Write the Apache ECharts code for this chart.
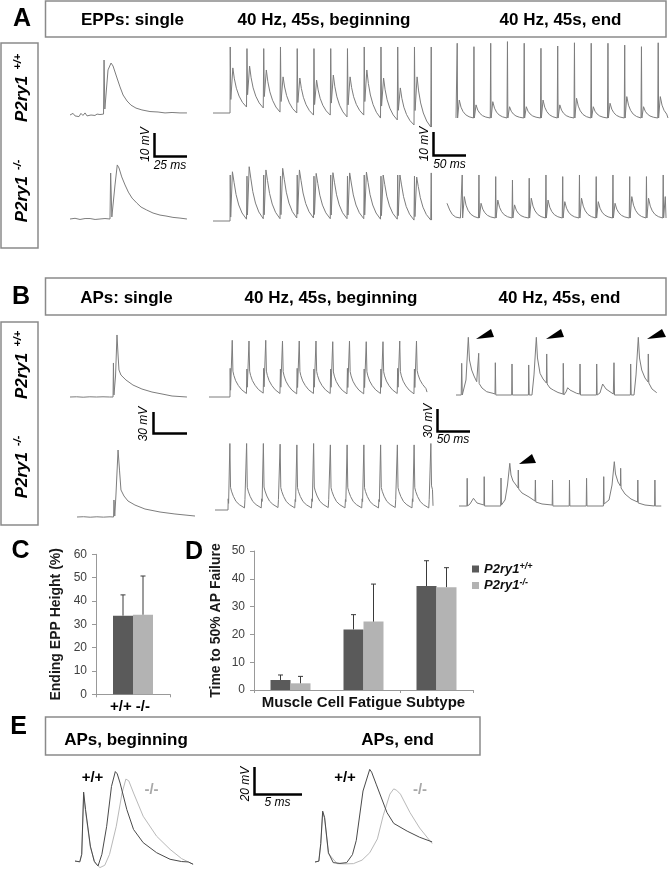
<!DOCTYPE html>
<html><head><meta charset="utf-8">
<script src="https://cdn.jsdelivr.net/npm/echarts@6/dist/echarts.min.js"></script>
<style>html,body{margin:0;padding:0;background:#fff}#c{width:669px;height:872px}</style>
</head><body><div id="c"></div>
<script>
const FONT = "'Liberation Sans', Arial, Helvetica, sans-serif";
const PERIOD_MS = 25; // 40 Hz stimulation

// ---------- Panel A: EPPs (time ms, voltage mV rel. to baseline) ----------
const aSingleWt = [[0,0],[2.3,0.7],[3.8,-0.4],[5.3,0.4],[6.8,-0.7],[8.3,0.7],[9.8,-0.2],[11.4,0.9],[12.9,-0.4],[14.4,0.4],[15.9,0],[17.4,0.7],[18.9,-0.2],[20.5,0.4],[22.7,0.2],[25.4,0.4],[25.8,23.9],[26.4,2.6],[27,2.2],[28.8,19.6],[31.1,22.6],[32.6,21.3],[35.6,16.1],[37.9,12.2],[40.2,8.7],[43.2,6.1],[46.2,4.3],[50,3],[54.5,2.2],[60.6,1.5],[66.7,1.3],[72,0.9],[77.3,1.1],[83.3,0.9],[88.6,0.9]];
const aSingleKo = [[0,0],[3.8,0.3],[7.6,-0.2],[11.4,0.2],[15.2,0.2],[19,-0.2],[22.7,0],[26.5,0.2],[30.3,0],[30.8,20],[31.7,0.9],[32.3,0.4],[34.1,14.8],[35.8,23.5],[37.1,22.2],[39.2,18.3],[41.7,14.8],[44.2,11.7],[47,9.1],[50.5,7],[53.8,5.2],[58.1,3.9],[62.9,2.6],[68.2,1.7],[72.7,1.3],[78,0.7],[83.3,0.4],[88.6,0]];

const aBegWtArt    = [28.7,28,28,28.7,28,28,28,28,28.7,28.7,28.7,28.7,28.7];
const aBegWtPeak   = [19.6,20.4,18.7,15.7,15.2,14.3,16.5,15.7,18.7,15.2,10.9,15.7,null];
const aBegWtTrough = [2.6,2.2,0.4,0,-0.9,-0.9,-1.7,-0.9,-2.2,-3,-5.2,-6.1,-6.1];

const aBegKoArt    = [20,19.5,20,19.5,20,19.5,20,19.5,20,19.5,20,19.5,20.9];
const aBegKoPeak   = [21.4,23.6,22.2,22.9,22.2,20.7,21,20.9,21.3,20,20,19.1,null];
const aBegKoTrough = [0.8,1,1,1.3,1.3,1,1,1,0.8,0.8,0.4,0.4,0.4];

const aEndWtArt    = [32.5,31,32.5,33.2,32.5,30.3,31.3,32.7,32.5,32.5,31.7,31,32.7];
const aEndWtPeak   = [7.8,5.7,7.1,4.9,4.9,7.8,5.7,8.6,4.9,6.4,9.3,4.9,9.3];
const aEndWtTrough = [0,0,0,0,0,0,0,0,0,0,0,0,0];

const aEndKoLead   = [[0,6.4],[4,3.5],[8,1.5],[13,0.4],[20,0]];
const aEndKoArt    = [18.7,18.7,18,16.5,17.3,18.7,18,18.7,18,18.7,18,18,18.7];
const aEndKoPeak   = [9.3,6.4,7.8,5.7,8.6,7.8,7.1,8.6,7.1,6.4,9.3,8.6,9.3];
const aEndKoTrough = [0,0,0,0,0,0,0,0,0,0,0,0,0];

// ---------- Panel B: APs ----------
const bSingleWt = [[0,0],[5,0.3],[10,-0.3],[15,0.3],[20,0],[25,0.3],[30,0],[32.6,0],[32.9,48.6],[33.3,2.9],[34.5,30],[35.6,88.6],[36.4,60],[37.1,38.6],[38.6,31.4],[42.4,24.3],[47.7,17.1],[54.5,11.4],[62.1,7.1],[69.7,4.3],[77.3,1.4],[88.6,0]];
const bSingleKo = [[0,0],[5,0.4],[10,-0.3],[15,0.3],[20,-0.2],[25,0.3],[27.7,0],[28,24.3],[28.6,1.4],[29.5,31.4],[31.1,95.7],[32.2,67],[33.3,38.6],[35.6,30],[38.6,22.9],[43.9,17.1],[51.5,11.4],[62.9,7.1],[74.2,4.3],[89.4,1.4]];

const bBegWtArt    = [41,40,41,40,41,40,40,41,40,40,41,40];
const bBegWtPeak   = [81,80,81,80,80,80,79,80,79,79,80,80];
const bBegWtTrough = [5,5.5,5,4.5,5,5,4.5,4.5,5,5,4.5,7];

const bBegKoArt    = [16,15,16,15,15,16,15,15,16,15,15,16,15];
const bBegKoPeak   = [95,95,95,94,93,95,93,93,93,93,93,93,95];
const bBegKoTrough = [3,3,3.5,3,3,3.5,3,3,3,3.5,3,3,6];

const bEndWt = [[0,0],[7.8,0],[8.5,45.3],[9.4,0],[11.9,0],[14.9,21.4],[18.4,82.4],[20.1,50],[23.4,35.7],[26.9,27.1],[30.9,19],[33.6,17.1],[33.9,59.6],[34.6,16.4],[38.8,10],[45.8,4.7],[55.2,2.4],[58.2,1.4],[58.7,46.1],[59.4,0],[83.1,0],[83.6,44.3],[84.2,0],[108.1,0],[108.5,42.9],[109.3,0],[113.4,0],[116.4,28.6],[119.9,82.4],[121.6,52.9],[125.4,31],[129.9,22.9],[134.9,17.1],[135.4,58.6],[136.1,15.7],[140.3,10],[145.2,7.1],[152.2,3.6],[159.7,1.4],[160.1,45.3],[160.9,0],[164.2,4.3],[166.7,10.4],[170.1,7.1],[180.1,2.4],[184.6,1.4],[185.1,44.3],[185.8,0],[209.6,0],[210,44.3],[210.7,0],[214.9,2.9],[218.9,15.7],[223.9,8.6],[234.8,1.4],[235.4,1.4],[235.8,46.1],[236.6,0],[260.3,0],[260.7,44.3],[261.5,0],[265.7,0],[268.7,28.6],[272.1,82.4],[273.9,52.9],[277.2,35.7],[282.1,24.3],[286.6,18.6],[287,58.6],[287.8,17.1],[292.5,8.6],[299.6,3.3]];
const bEndKo = [[0,0],[11.8,0],[12.2,39.6],[12.8,0],[16.4,2.9],[21.6,11],[26.9,4.3],[37.2,1.4],[37.6,41.9],[38.2,0],[62.2,0],[62.7,40],[63.3,1.4],[68.7,8.6],[72.4,30],[75.8,61],[77.6,44.3],[80.6,35.7],[85.1,30],[88.1,25.7],[88.5,51.4],[89.1,24.3],[94,18.6],[104.5,12.9],[113.4,7.1],[114,37.1],[114.6,5.7],[123.9,2.9],[139.1,1.4],[139.6,37.1],[140.1,0],[164.5,0],[164.9,37.1],[165.5,0],[189.9,0],[190.4,39.6],[191,0],[215.5,0],[216,41.9],[216.6,2.9],[223.9,8.6],[228.4,30],[231.8,63.3],[233.6,45.7],[237.3,34.3],[240.9,28.6],[241.3,53.9],[241.9,25.7],[247.8,17.1],[256.7,10],[266.4,5.7],[266.9,37.1],[267.5,4.3],[277.6,1.4],[291.9,0],[292.4,37.1],[293,0],[301.9,0]];

// ---------- Panel E: single APs overlaid ----------
const eBegWt = [[0,0.2],[0.5,-0.4],[0.7,5.2],[0.9,51.6],[1.1,38.5],[1.6,11.3],[2,0],[2.4,-3.5],[2.8,5.2],[3.3,26.1],[3.8,55.8],[4.2,66.9],[4.4,65.2],[4.7,58.3],[5.4,38.5],[6.1,23.7],[7.1,13.9],[8.5,6.4],[9.9,1.5],[11.1,-0.2],[11.8,-0.5],[12.3,-2.2]];
const eBegKo = [[0,0],[0.5,-0.4],[0.7,5.2],[0.9,49.6],[1.1,37],[1.6,10.4],[2.1,-1.5],[2.6,-4.7],[3.1,-3],[3.6,5.2],[4.3,26.1],[4.9,50.9],[5.3,61.3],[5.6,60],[6.1,50.9],[7.1,33.6],[8.5,18.7],[9.9,8.9],[11.1,2],[12.3,-2.2]];
const eEndWt = [[0,0],[0.4,0.7],[0.6,14.8],[0.8,40.7],[1,35.6],[1.4,7.4],[1.9,-0.5],[2.6,-1.1],[3.3,-0.5],[3.9,5.9],[4.3,17.3],[5,56.8],[5.7,74.1],[5.9,71.9],[6.4,61.7],[7.5,39.5],[8.2,30.9],[9.6,24.7],[10.9,19.8],[12.2,16.1]];
const eEndKo = [[0,0],[0.4,0.7],[0.6,14.1],[0.8,39.5],[1,34.8],[1.4,6.7],[2.3,-1.3],[3.1,-1.5],[4,-1.3],[4.9,1.5],[5.7,7.4],[6.5,18.5],[7.1,37],[7.8,54.3],[8.2,58.5],[8.5,57.4],[8.9,54.3],[9.9,39.5],[10.9,27.2],[12.2,14.8]];

// ---------- Panels C, D: bar charts ----------
const cCategories = ['EPP'];
const cWt = [33.7], cWtErr = [8.9];
const cKo = [34.1], cKoErr = [16.6];
const cTicks = [0,10,20,30,40,50,60];

const dCategories = ['Muscle','Cell Fatigue','Subtype'];
const dWt = [3.6,21.8,37.4], dWtErr = [1.8,5.3,9.1];
const dKo = [2.4,24.6,37.0], dKoErr = [2.5,13.5,7.0];
const dTicks = [0,10,20,30,40,50];

// Waveform templates (relative times in ms after stimulus; fractions of peak-trough)
const eppShapeWt = {art:0.3, dip:1.2, dipFrac:0.3, peak:4.2, decay:[[6.5,0.72],[9.5,0.48],[13.5,0.28],[18.5,0.12],[24.6,0]]};
const eppShapeKo = {art:0.3, dip:1.0, dipFrac:0.08, peak:3.6, decay:[[6,0.78],[9,0.52],[13,0.3],[18,0.13],[24.6,0]]};
const eppEndShape = {art:0.3, dip:0.9, dipFrac:0, peak:3.4, decay:[[6,0.6],[9,0.36],[13,0.18],[18,0.07],[24.6,0]]};
const apShapeWt = {art:0.3, dip:0.9, dipFrac:0.12, peak:3.4, decay:[[4.4,0.42],[5.8,0.34],[8.5,0.24],[12.5,0.15],[17.5,0.07],[24.6,0]]};
const apShapeKo = {art:0.3, dip:0.9, dipFrac:0.1, peak:2.8, decay:[[3.8,0.32],[5.2,0.26],[8,0.18],[12,0.1],[17,0.05],[24.6,0]]};

function buildTrain(lead, onset, art, peak, trough, shape, endT) {
  const pts = lead.map(p => p.slice());
  let level = pts[pts.length - 1][1];
  for (let i = 0; i < art.length; i++) {
    const t = onset + i * PERIOD_MS;
    if (t > endT) break;
    pts.push([t, level]);
    pts.push([t + shape.art, art[i]]);
    if (peak[i] == null) { pts.push([t + shape.art + 0.5, level]); return pts; }
    pts.push([t + shape.dip, level + shape.dipFrac * (peak[i] - level)]);
    pts.push([t + shape.peak, peak[i]]);
    for (const [dt, f] of shape.decay) {
      const tt = t + dt;
      if (tt > endT) break;
      pts.push([tt, trough[i] + f * (peak[i] - trough[i])]);
    }
    level = trough[i];
  }
  if (pts[pts.length - 1][0] < endT) pts.push([endT, level]);
  return pts;
}

const TR = '#7d7d7d';
const traces = [
  // panel A
  {left:70, width:117, base:115, pxMs:1.32, pxMv:2.3, vMin:-15, vMax:40, data:aSingleWt, color:TR},
  {left:70, width:117, base:219, pxMs:1.32, pxMv:2.3, vMin:-15, vMax:40, data:aSingleKo, color:TR},
  {left:213, width:218, base:113, pxMs:0.67, pxMv:2.3, vMin:-15, vMax:40, data:buildTrain([[0,0]],25.4,aBegWtArt,aBegWtPeak,aBegWtTrough,eppShapeWt,325.4), color:TR},
  {left:213, width:220, base:221, pxMs:0.67, pxMv:2.3, vMin:-15, vMax:40, data:buildTrain([[0,0]],25.4,aBegKoArt,aBegKoPeak,aBegKoTrough,eppShapeKo,328.4), color:TR},
  {left:456, width:212, base:118, pxMs:0.67, pxMv:2.3, vMin:-15, vMax:40, data:buildTrain([[0,0]],1.5,aEndWtArt,aEndWtPeak,aEndWtTrough,eppEndShape,316.4), color:TR},
  {left:447, width:219, base:218, pxMs:0.67, pxMv:2.3, vMin:-15, vMax:40, data:buildTrain(aEndKoLead,22.4,aEndKoArt,aEndKoPeak,aEndKoTrough,eppEndShape,326.9), color:TR},
  // panel B
  {left:70, width:117, base:397, pxMs:1.32, pxMv:0.7, vMin:-15, vMax:110, data:bSingleWt, color:TR},
  {left:77, width:118, base:517, pxMs:1.32, pxMv:0.7, vMin:-15, vMax:110, data:bSingleKo, color:TR},
  {left:209, width:218, base:397, pxMs:0.67, pxMv:0.7, vMin:-15, vMax:110, data:buildTrain([[0,0]],31.3,bBegWtArt,bBegWtPeak,bBegWtTrough,apShapeWt,325.4), color:TR},
  {left:215, width:218, base:510, pxMs:0.67, pxMv:0.7, vMin:-15, vMax:110, data:buildTrain([[0,0]],19.4,bBegKoArt,bBegKoPeak,bBegKoTrough,apShapeKo,325.4), color:TR},
  {left:456, width:201, base:395, pxMs:0.67, pxMv:0.7, vMin:-15, vMax:110, data:bEndWt, color:TR},
  {left:459, width:203, base:506, pxMs:0.67, pxMv:0.7, vMin:-15, vMax:110, data:bEndKo, color:TR},
  // panel E
  {left:75, width:120, base:862, pxMs:9.6, pxMv:1.35, vMin:-8, vMax:80, data:eBegKo, color:'#b9b9b9'},
  {left:75, width:120, base:862, pxMs:9.6, pxMv:1.35, vMin:-8, vMax:80, data:eBegWt, color:'#4a4a4a'},
  {left:315, width:118, base:870, pxMs:9.6, pxMv:1.35, vMin:-8, vMax:80, data:eEndKo, color:'#b9b9b9'},
  {left:315, width:118, base:870, pxMs:9.6, pxMv:1.35, vMin:-8, vMax:80, data:eEndWt, color:'#4a4a4a'}
];

const grid = [], xAxis = [], yAxis = [], series = [];
traces.forEach((t, i) => {
  grid.push({left:t.left, top:t.base - t.vMax * t.pxMv, width:t.width, height:(t.vMax - t.vMin) * t.pxMv});
  xAxis.push({type:'value', gridIndex:i, min:0, max:t.width / t.pxMs, show:false});
  yAxis.push({type:'value', gridIndex:i, min:t.vMin, max:t.vMax, show:false});
  series.push({type:'line', xAxisIndex:i, yAxisIndex:i, data:t.data, showSymbol:false, symbol:'none',
    lineStyle:{width:1, color:t.color}, clip:false, silent:true, animation:false});
});

const DARK = '#5a5a5a', LIGHT = '#b3b3b3';
const axisCommonY = (min, max, name, gap) => ({
  type:'value', min, max, interval:10,
  axisLine:{show:true, lineStyle:{color:'#999', width:1}},
  axisTick:{show:true, length:4, lineStyle:{color:'#999'}},
  splitLine:{show:false},
  axisLabel:{fontSize:12, color:'#404040', fontFamily:FONT, margin:9},
  name, nameLocation:'middle', nameGap:gap,
  nameTextStyle:{fontSize:14, fontWeight:'bold', color:'#1a1a1a', fontFamily:FONT}
});
const cIdx = traces.length, dIdx = traces.length + 1;
grid.push({left:96, top:554.3, width:74, height:140});
grid.push({left:254, top:551, width:219, height:139});
xAxis.push({type:'category', gridIndex:cIdx, data:cCategories,
  axisLine:{lineStyle:{color:'#999'}}, axisTick:{show:true, length:3, lineStyle:{color:'#999'}}, axisLabel:{show:false},
  name:'+/+ -/-', nameLocation:'middle', nameGap:5,
  nameTextStyle:{fontSize:15, fontWeight:'bold', color:'#000', fontFamily:FONT, verticalAlign:'top', padding:[0,6,0,0]}});
xAxis.push({type:'category', gridIndex:dIdx, data:dCategories,
  axisLine:{lineStyle:{color:'#999'}}, axisTick:{show:true, length:3, lineStyle:{color:'#999'}}, axisLabel:{show:false},
  name:'Muscle Cell Fatigue Subtype', nameLocation:'middle', nameGap:5,
  nameTextStyle:{fontSize:15, fontWeight:'bold', color:'#111', fontFamily:FONT, verticalAlign:'top'}});
yAxis.push(Object.assign({gridIndex:cIdx}, axisCommonY(cTicks[0], cTicks[cTicks.length-1], 'Ending EPP Height (%)', 33)));
yAxis.push(Object.assign({gridIndex:dIdx}, axisCommonY(dTicks[0], dTicks[dTicks.length-1], 'Time to 50% AP Failure', 31)));

function barSeries(name, idx, data, color) {
  return {type:'bar', name, xAxisIndex:idx, yAxisIndex:idx, data, barWidth:20, barGap:'0%',
    itemStyle:{color}, animation:false, silent:true};
}
function errSeries(idx, vals, errs, offset) {
  return {type:'custom', xAxisIndex:idx, yAxisIndex:idx, silent:true, animation:false, z:5,
    data: vals.map((v, i) => [i, v, v + errs[i]]),
    encode:{x:0, y:[1,2]},
    renderItem:(params, api) => {
      const p0 = api.coord([api.value(0), api.value(1)]);
      const p1 = api.coord([api.value(0), api.value(2)]);
      const x = p0[0] + offset;
      return {type:'group', children:[
        {type:'line', shape:{x1:x, y1:p0[1], x2:x, y2:p1[1]}, style:{stroke:'#3a3a3a', lineWidth:1}},
        {type:'line', shape:{x1:x - 2.5, y1:p1[1], x2:x + 2.5, y2:p1[1]}, style:{stroke:'#3a3a3a', lineWidth:1}}
      ]};
    }};
}
series.push(barSeries('cWt', cIdx, cWt, DARK), barSeries('cKo', cIdx, cKo, LIGHT));
series.push(errSeries(cIdx, cWt, cWtErr, -10), errSeries(cIdx, cKo, cKoErr, 10));
series.push(barSeries('P2ry1+/+', dIdx, dWt, DARK), barSeries('P2ry1-/-', dIdx, dKo, LIGHT));
series.push(errSeries(dIdx, dWt, dWtErr, -10), errSeries(dIdx, dKo, dKoErr, 10));

// ---------- annotations ----------
const G = [];
const txt = (x, y, text, font, extra) => G.push(Object.assign({type:'text', x, y, silent:true,
  style:Object.assign({text, font, fill:'#000', align:'center', verticalAlign:'middle'}, (extra && extra.style) || {})},
  extra && extra.rotation != null ? {rotation:extra.rotation} : {}));
const rect = (x, y, w, h) => G.push({type:'rect', silent:true, shape:{x, y, width:w, height:h},
  style:{fill:'none', stroke:'#8a8a8a', lineWidth:1.5}});
const scaleBar = (x, y1, y2, x2, lw) => G.push({type:'polyline', silent:true,
  shape:{points:[[x, y1], [x, y2], [x2, y2]]}, style:{stroke:'#000', lineWidth:lw || 2.5, fill:null, lineJoin:'miter'}});
const arrow = pts => G.push({type:'polygon', silent:true, shape:{points:pts}, style:{fill:'#000'}});

const HF = 'bold 17px ' + FONT, LF = 'bold 25px ' + FONT, SF = 'italic 12px ' + FONT;
rect(45.5, 1, 620.5, 36); rect(45.5, 278, 620.5, 37); rect(45.5, 717, 434.5, 38);
rect(1, 43, 37, 205); rect(1, 322, 37, 203);
txt(22, 19.5, 'A', LF); txt(21, 297.5, 'B', LF); txt(20.5, 551.5, 'C', LF); txt(194, 552.5, 'D', LF); txt(18.5, 727, 'E', LF);
txt(132.5, 20, 'EPPs: single', HF); txt(324, 20, '40 Hz, 45s, beginning', HF); txt(560.5, 20, '40 Hz, 45s, end', HF);
txt(126.5, 298, 'APs: single', HF); txt(331, 298, '40 Hz, 45s, beginning', HF); txt(559.5, 298, '40 Hz, 45s, end', HF);
txt(126, 740, 'APs, beginning', HF); txt(397.5, 740, 'APs, end', HF);

const genoRich = {
  m:{fontSize:17, fontWeight:'bold', fontStyle:'italic', fontFamily:FONT, fill:'#000', lineHeight:20},
  s:{fontSize:11, fontWeight:'bold', fontStyle:'italic', fontFamily:FONT, fill:'#000', verticalAlign:'top', padding:[0,0,0,6], lineHeight:20}
};
const geno = (x, y, sup) => G.push({type:'text', x, y, rotation:Math.PI / 2, silent:true,
  style:{text:'{m|P2ry1}{s|' + sup + '}', rich:genoRich, align:'center', verticalAlign:'middle'}});
geno(22, 88, '+/+'); geno(22, 191, '-/-'); geno(22, 365, '+/+'); geno(22, 467, '-/-');

// scale bars
scaleBar(154.5, 133, 156.5, 187); txt(146, 144.5, '10 mV', SF, {rotation:Math.PI / 2}); txt(170, 165.5, '25 ms', SF);
scaleBar(433.5, 132, 155.5, 466); txt(424.5, 144, '10 mV', SF, {rotation:Math.PI / 2}); txt(449.5, 164.5, '50 ms', SF);
scaleBar(153.5, 412, 433.5, 187); txt(143.5, 424, '30 mV', SF, {rotation:Math.PI / 2});
scaleBar(437.5, 409, 431.5, 470); txt(428.5, 421, '30 mV', SF, {rotation:Math.PI / 2}); txt(453, 439.5, '50 ms', SF);
scaleBar(254.5, 767, 794.5, 302); txt(246, 784, '20 mV', SF, {rotation:Math.PI / 2}); txt(277.5, 803, '5 ms', SF);

// arrowheads
arrow([[476,339],[491,329],[494,337]]);
arrow([[546,339],[561,329],[564,337]]);
arrow([[647,339],[662,329],[666,337]]);
arrow([[519,464],[532,454],[536,463]]);

// E genotype labels
const gl = 'bold 15px ' + FONT;
txt(92.5, 778, '+/+', gl); txt(345, 778, '+/+', gl);
txt(151.5, 790, '-/-', gl, {style:{fill:'#a8a8a8'}}); txt(420, 790, '-/-', gl, {style:{fill:'#a8a8a8'}});

const option = {
  animation:false,
  backgroundColor:'#fff',
  textStyle:{fontFamily:FONT},
  grid, xAxis, yAxis, series,
  legend:{
    data:['P2ry1+/+','P2ry1-/-'], left:467, top:557, orient:'vertical', icon:'rect',
    itemWidth:7, itemHeight:7, itemGap:3, selectedMode:false,
    formatter: n => '{m|P2ry1}{s|' + n.slice(5) + '}',
    textStyle:{rich:{
      m:{fontSize:13, fontWeight:'bold', fontStyle:'italic', fontFamily:FONT, color:'#111', lineHeight:14},
      s:{fontSize:9, fontWeight:'bold', fontStyle:'italic', fontFamily:FONT, color:'#111', verticalAlign:'top', lineHeight:14}
    }}
  },
  graphic: G
};
const chart = echarts.init(document.getElementById('c'), null, {renderer:'canvas'});
chart.setOption(option);
</script></body></html>
